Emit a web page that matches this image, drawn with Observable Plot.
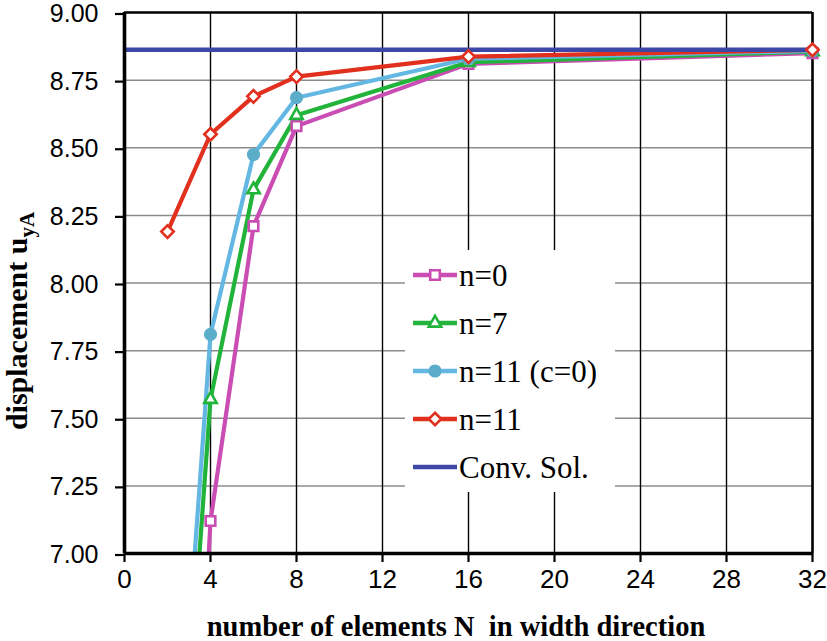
<!DOCTYPE html>
<html>
<head>
<meta charset="utf-8">
<script src="https://cdn.jsdelivr.net/npm/d3@7"></script>
<script src="https://cdn.jsdelivr.net/npm/@observablehq/plot@0.6"></script>
<style>
  html, body { margin: 0; padding: 0; background: #fff; }
</style>
</head>
<body>
<div id="chart"></div>
<script>
// ---- data ----
const N = [2, 4, 6, 8, 16, 32];
const seriesNames = ["n=0", "n=7", "n=11 (c=0)", "n=11"];
const n0    = [4.12, 7.12, 8.21, 8.58, 8.81, 8.850];
const n7    = [5.35, 7.57, 8.345, 8.62, 8.816, 8.855];
const n11c0 = [5.60, 7.81, 8.475, 8.685, 8.829, 8.858];
const n11   = [8.19, 8.55, 8.69, 8.763, 8.837, 8.862];
const convSol = 8.862;
const convLabel = "Conv. Sol.";
const xTicks = [0, 4, 8, 12, 16, 20, 24, 28, 32];
const yTicks = [7.00, 7.25, 7.50, 7.75, 8.00, 8.25, 8.50, 8.75, 9.00];
const xTitle = "number of elements N  in width direction";
const yTitleMain = "displacement u";
const yTitleSub = "yA";

// ---- styles ----
const seriesValues = [n0, n7, n11c0, n11];
const colors = ["#c94db3", "#22b43a", "#63b7e2", "#e2301f"];
const markFill = ["#fff", "#fff", "#5badca", "#fff"];
const markStroke = ["#c94db3", "#22b43a", "none", "#e2301f"];
const symbols = ["square", "triangle", "circle", "diamond2"];
const d3symbols = [d3.symbolSquare, d3.symbolTriangle, d3.symbolCircle, d3.symbolDiamond2];
const radii = [5.4, 4.6, 6.6, 5.6];
const convColor = "#3d47a6";

const rows = [];
seriesNames.forEach((s, k) => N.forEach((x, i) => rows.push({N: x, v: seriesValues[k][i], s, k})));

const marks = [
  Plot.ruleY(yTicks.filter(v => v > 7 && v < 9), {stroke: "#8c8c8c", strokeWidth: 1.5}),
  Plot.ruleX(xTicks.filter(v => v > 0 && v < 32), {stroke: "#000", strokeWidth: 1.4}),
  Plot.ruleX([32], {stroke: "#000", strokeWidth: 2.6}),
  Plot.ruleY([9], {stroke: "#000", strokeWidth: 2.6})
];
seriesNames.forEach((s, k) => {
  marks.push(Plot.line(rows.filter(d => d.k === k), {x: "N", y: "v", stroke: colors[k], strokeWidth: 4.2, clip: true}));
});
marks.push(Plot.ruleY([convSol], {stroke: convColor, strokeWidth: 4.5}));
seriesNames.forEach((s, k) => {
  marks.push(Plot.dot(rows.filter(d => d.k === k && d.v >= 7), {
    x: "N", y: "v", symbol: () => symbols[k], r: radii[k],
    fill: markFill[k], stroke: markStroke[k], strokeWidth: 2.6
  }));
});
marks.push(
  Plot.ruleX([0], {stroke: "#000", strokeWidth: 3.6}),
  Plot.ruleY([7], {stroke: "#000", strokeWidth: 3.6}),
  Plot.axisX({ticks: xTicks, tickSize: 9, tickPadding: 7, fontSize: 26, label: null, strokeWidth: 2.2, tickFormat: d3.format("d")}),
  Plot.axisY({ticks: yTicks, tickSize: 9, tickPadding: 17, fontSize: 25, dy: 1.5, label: null, strokeWidth: 2.2, tickFormat: d3.format(".2f")})
);

const plot = Plot.plot({
  width: 827, height: 641,
  marginLeft: 124, marginRight: 15, marginTop: 12, marginBottom: 88,
  x: {domain: [0, 32]},
  y: {domain: [7, 9]},
  style: {background: "white", fontFamily: "'Liberation Sans', Arial, sans-serif", overflow: "visible", color: "#000"},
  marks
});

const svg = d3.select(plot);

// axis titles
svg.append("text")
  .attr("x", 456).attr("y", 636)
  .attr("text-anchor", "middle")
  .style("white-space", "pre")
  .attr("font-family", "'Liberation Serif', 'Times New Roman', serif")
  .attr("font-weight", "bold").attr("font-size", 28.5)
  .attr("fill", "#000")
  .text(xTitle);

const yt = svg.append("text")
  .attr("transform", "translate(27,321) rotate(-90)")
  .attr("text-anchor", "middle")
  .attr("font-family", "'Liberation Serif', 'Times New Roman', serif")
  .attr("font-weight", "bold").attr("font-size", 30)
  .attr("fill", "#000");
yt.append("tspan").text(yTitleMain);
yt.append("tspan").attr("font-size", 21).attr("dy", 7).text(yTitleSub);

// legend
const lg = svg.append("g").attr("text-anchor", "start");
lg.append("rect").attr("x", 405).attr("y", 250).attr("width", 210).attr("height", 242).attr("fill", "#fff");
const items = seriesNames.map((s, k) => ({s, k})).concat([{s: convLabel, k: -1}]);
items.forEach((it, i) => {
  const cy = 275 + i * 48;
  const col = it.k >= 0 ? colors[it.k] : convColor;
  lg.append("line").attr("x1", 413).attr("x2", 457).attr("y1", cy).attr("y2", cy)
    .attr("stroke", col).attr("stroke-width", 4.5);
  if (it.k >= 0) {
    const r = radii[it.k];
    lg.append("path")
      .attr("d", d3.symbol(d3symbols[it.k], Math.PI * r * r)())
      .attr("transform", `translate(435,${cy})`)
      .attr("fill", markFill[it.k]).attr("stroke", markStroke[it.k]).attr("stroke-width", 2.6);
  }
  lg.append("text").attr("x", 459).attr("y", cy + 10.5)
    .attr("text-anchor", "start")
    .attr("font-family", "'Liberation Serif', 'Times New Roman', serif")
    .attr("font-size", 31).attr("fill", "#000")
    .text(it.s);
});

document.getElementById("chart").appendChild(plot);
</script>
</body>
</html>
